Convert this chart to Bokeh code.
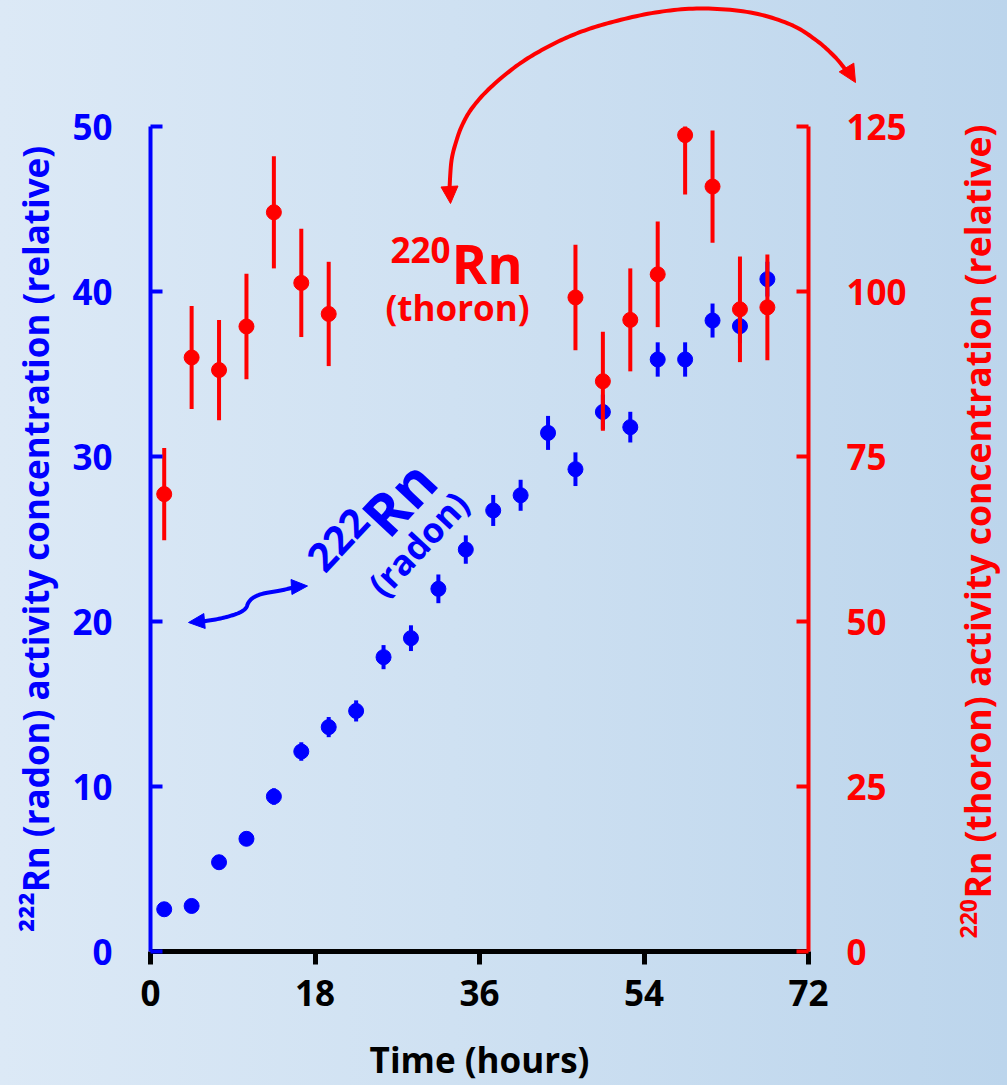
import math
import numpy as np
from bokeh.plotting import figure
from bokeh.models import Range1d, LinearAxis, FixedTicker, Label
from bokeh.embed import file_html
from bokeh.resources import INLINE

# ---------------- data ----------------
hours_radon = [1.5, 4.5, 7.5, 10.5, 13.5, 16.5, 19.5, 22.5, 25.5, 28.5, 31.5, 34.5,
               37.5, 40.5, 43.5, 46.5, 49.5, 52.5, 55.5, 58.5, 61.5, 64.5, 67.5]
radon = [2.56, 2.76, 5.41, 6.83, 9.39, 12.12, 13.6, 14.58, 17.84, 18.99, 21.98, 24.36,
         26.73, 27.65, 31.43, 29.23, 32.7, 31.78, 35.88, 35.88, 38.24, 37.9, 40.75]
radon_err = [0.2, 0.22, 0.3, 0.35, 0.5, 0.56, 0.61, 0.64, 0.73, 0.78, 0.87, 0.86,
             0.94, 0.94, 1.03, 1.02, 1.05, 0.93, 1.04, 1.04, 1.03, 1.03, 1.05]

hours_thoron = [1.5, 4.5, 7.5, 10.5, 13.5, 16.5, 19.5,
                46.5, 49.5, 52.5, 55.5, 58.5, 61.5, 64.5, 67.5]
thoron = [69.3, 90.0, 88.1, 94.7, 112.0, 101.3, 96.6,
          99.1, 86.4, 95.7, 102.6, 123.7, 115.9, 97.3, 97.6]
thoron_err = [7.0, 7.8, 7.6, 8.0, 8.5, 8.2, 7.9,
              8.0, 7.5, 7.8, 8.0, 9.0, 8.5, 8.0, 8.0]

x_ticks = [0, 18, 36, 54, 72]
radon_ticks = [0, 10, 20, 30, 40, 50]
thoron_ticks = [0, 25, 50, 75, 100, 125]

BLUE = "#0000ff"
RED = "#ff0000"
FONT = "Open Sans"
K_BASE = 0.38  # empirical baseline correction (fraction of font size)

# ---------------- figure ----------------
p = figure(frame_width=658, frame_height=825,
           x_range=Range1d(0, 72), y_range=Range1d(0, 50),
           output_backend="svg", toolbar_location=None,
           min_border_left=150, min_border_right=199,
           min_border_top=126, min_border_bottom=134,
           background_fill_color=None, border_fill_color=None,
           outline_line_color=None)
p.extra_y_ranges = {"thoron": Range1d(0, 125)}
p.styles = {"background": "linear-gradient(to right, #dce9f6 0%, #cfe1f2 45%, #bcd5ec 100%)"}
p.grid.visible = False


def style_axis(ax, color, ticks, lw):
    ax.ticker = FixedTicker(ticks=ticks)
    ax.axis_line_color = color
    ax.axis_line_width = lw
    ax.major_tick_line_color = color
    ax.major_tick_line_width = lw
    ax.minor_tick_line_color = None
    ax.major_label_text_color = color
    ax.major_label_text_font = FONT
    ax.major_label_text_font_style = "bold"
    ax.major_label_text_font_size = "35px"


def style_title(ax, text, color, standoff):
    ax.axis_label = text
    ax.axis_label_text_font = FONT
    ax.axis_label_text_font_style = "bold"
    ax.axis_label_text_font_size = "35px"
    ax.axis_label_text_color = color
    ax.axis_label_standoff = standoff


xa = p.xaxis[0]
style_axis(xa, "black", x_ticks, 5)
xa.major_tick_in = 0
xa.major_tick_out = 13
xa.major_label_standoff = 15
style_title(xa, "Time (hours)", "black", 27)

ya = p.yaxis[0]
style_axis(ya, BLUE, radon_ticks, 4)
ya.major_tick_in = 12
ya.major_tick_out = 0
ya.major_label_standoff = 38
style_title(ya, "\u00b2\u00b2\u00b2Rn (radon) activity concentration (relative)", BLUE, 10)

ra = LinearAxis(y_range_name="thoron")
style_axis(ra, RED, thoron_ticks, 4)
ra.major_tick_in = 12
ra.major_tick_out = 0
ra.major_label_standoff = 38
p.add_layout(ra, "right")

# ---------------- data marks ----------------
r_lo = [v - e for v, e in zip(radon, radon_err)]
r_hi = [v + e for v, e in zip(radon, radon_err)]
p.segment(x0=hours_radon, y0=r_lo, x1=hours_radon, y1=r_hi, line_color=BLUE, line_width=4)
p.scatter(x=hours_radon, y=radon, size=15, fill_color=BLUE, line_color=BLUE)

t_lo = [v - e for v, e in zip(thoron, thoron_err)]
t_hi = [v + e for v, e in zip(thoron, thoron_err)]
p.segment(x0=hours_thoron, y0=t_lo, x1=hours_thoron, y1=t_hi, line_color=RED, line_width=4,
          y_range_name="thoron")
p.scatter(x=hours_thoron, y=thoron, size=15, fill_color=RED, line_color=RED,
          y_range_name="thoron")

# ---------------- decorations (page-pixel helpers) ----------------
def dx(X):
    return (X - 150.0) * 72.0 / 658.0


def dy(Y):
    return (951.0 - Y) * 50.0 / 825.0


def smooth(pts, n=12):
    P = np.array(pts, dtype=float)
    P = np.vstack([P[0], P, P[-1]])
    out = []
    for i in range(1, len(P) - 2):
        p0, p1, p2, p3 = P[i - 1], P[i], P[i + 1], P[i + 2]
        for t in np.linspace(0, 1, n, endpoint=False):
            out.append(0.5 * (2 * p1 + (-p0 + p2) * t + (2 * p0 - 5 * p1 + 4 * p2 - p3) * t * t
                              + (-p0 + 3 * p1 - 3 * p2 + p3) * t ** 3))
    out.append(P[-2])
    return np.array(out)


def curve(pts, color, w):
    path = smooth(pts)
    p.line(x=[dx(v) for v in path[:, 0]], y=[dy(v) for v in path[:, 1]],
           line_color=color, line_width=w, line_cap="round", line_join="round",
           level="overlay")


def head(tip, base, half, color):
    tx, ty = tip
    bx, by = base
    L = math.hypot(tx - bx, ty - by)
    nx, ny = -(ty - by) / L, (tx - bx) / L
    X = [tx, bx + nx * half, bx - nx * half]
    Y = [ty, by + ny * half, by - ny * half]
    p.patch(x=[dx(v) for v in X], y=[dy(v) for v in Y], fill_color=color,
            line_color=color, line_width=1, level="overlay")


# red arc (thoron -> right axis)
red_arc = [(449, 188), (451, 160), (456, 140), (462, 124), (472, 107), (490, 87), (518, 64),
           (546, 47), (576, 33), (610, 22), (655, 12), (700, 8), (750, 12), (790, 24),
           (816, 40), (834, 56), (845, 69)]
curve(red_arc, RED, 4)
head((450, 203), (449, 186), 8.5, RED)
head((855, 82), (846, 67), 8.5, RED)

# blue wavy double arrow (radon -> left axis)
blue_arc = [(202, 621), (220, 618), (237, 613), (245, 608), (248, 602), (253, 597),
            (263, 593), (280, 590), (293, 587)]
curve(blue_arc, BLUE, 4)
head((188, 622), (204, 620.5), 7.5, BLUE)
head((307, 585.5), (291, 586.5), 7.5, BLUE)


def lab(X, Y, text, size, color, align="left", angle=0.0, place="center"):
    # (X, Y): wanted alphabetic baseline point in page pixels
    ux, uy = -math.sin(angle), -math.cos(angle)   # glyph "up" in screen coords
    X += K_BASE * size * ux
    Y += K_BASE * size * uy
    p.add_layout(Label(x=dx(X), y=dy(Y), text=text, text_font=FONT, text_font_style="bold",
                       text_font_size=f"{size}px", text_color=color, text_align=align,
                       text_baseline="alphabetic", angle=angle), place)


# right axis title (reads bottom to top, like the left one)
lab(977, 938, "220", 23, RED, angle=math.pi / 2, place="right")
lab(990, 898, "Rn (thoron) activity concentration (relative)", 35.5, RED,
    angle=math.pi / 2, place="right")

# thoron annotation
lab(390, 263, "220", 35, RED)
lab(451, 283, "Rn", 54, RED)
lab(457, 320, "(thoron)", 35, RED, align="center")

# radon annotation (rotated)
a = math.radians(47)
ux, uy = math.cos(a), -math.sin(a)
nx, ny = -math.sin(a), -math.cos(a)
AX, AY = 388.0, 540.0
lab(AX - 68 * ux + 22 * nx, AY - 68 * uy + 22 * ny, "222", 40, BLUE, angle=a)
lab(AX, AY, "Rn", 58, BLUE, angle=a)
lab(AX + 18 * ux - 37 * nx, AY + 18 * uy - 37 * ny, "(radon)", 35, BLUE, align="center", angle=a)

TEMPLATE = ("{% block postamble %}<style>html, body { margin: 0 !important; "
            "padding: 0 !important; overflow: hidden; }</style>{% endblock %}")
open("out.html", "w").write(file_html(p, INLINE, template=TEMPLATE))
